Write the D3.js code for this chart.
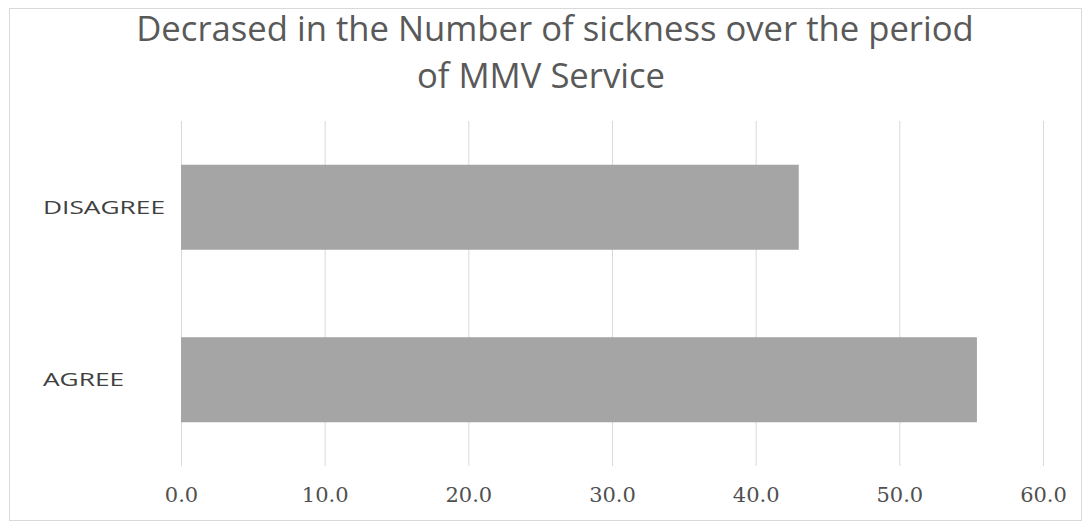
<!DOCTYPE html>
<html>
<head>
<meta charset="utf-8">
<script src="https://cdn.jsdelivr.net/npm/d3@7"></script>
<style>
  html, body { margin: 0; padding: 0; background: #fff; }
  svg { display: block; }
</style>
</head>
<body>
<svg id="chart" width="1091" height="529"></svg>
<script>
// Responses, bottom to top as in the chart
const categories = ["AGREE", "DISAGREE"];
const values = [55.4, 43.0];
const tickValues = [0, 10, 20, 30, 40, 50, 60];
const titleLines = ["Decrased in the Number of sickness over the period", "of MMV Service"];

const svg = d3.select("#chart");
const W = 1091, H = 529;
const font = "'Open Sans', 'Noto Sans', sans-serif";

// chart frame
svg.append("rect")
  .attr("x", 9.5).attr("y", 8.5)
  .attr("width", W - 19).attr("height", H - 17)
  .attr("fill", "#fff").attr("stroke", "#d9d9d9");

const plot = { left: 181, right: 1043, top: 121, bottom: 466 };

const x = d3.scaleLinear().domain([0, 60]).range([plot.left, plot.right]);
const y = d3.scaleBand()
  .domain(categories.slice().reverse())
  .range([plot.top, plot.bottom])
  .paddingInner(0.507)
  .paddingOuter(0.2535);

// vertical gridlines
svg.append("g")
  .selectAll("line")
  .data(tickValues)
  .join("line")
  .attr("x1", d => x(d) + 0.5).attr("x2", d => x(d) + 0.5)
  .attr("y1", plot.top).attr("y2", plot.bottom)
  .attr("stroke", "#d9d9d9").attr("stroke-width", 1);

// bars
svg.append("g")
  .selectAll("rect")
  .data(categories.map((c, i) => ({ c, v: values[i] })))
  .join("rect")
  .attr("x", x(0))
  .attr("y", d => y(d.c))
  .attr("width", d => x(d.v) - x(0))
  .attr("height", y.bandwidth())
  .attr("fill", "#a5a5a5");

// x axis tick labels
const xAxis = d3.axisBottom(x)
  .tickValues(tickValues)
  .tickFormat(d3.format(".1f"))
  .tickSize(0)
  .tickPadding(0);
const gx = svg.append("g")
  .attr("transform", `translate(0,502)`)
  .call(xAxis);
gx.select(".domain").remove();
gx.selectAll("text")
  .attr("y", 0)
  .attr("dy", 0)
  .attr("fill", "#505050")
  .style("font-family", "'DejaVu Serif', serif")
  .style("font-size", "21px");

// category labels, left aligned and widened to the axis-label style
const catLabels = svg.append("g")
  .selectAll("text")
  .data(categories)
  .join("text")
  .attr("x", 43)
  .attr("y", d => y(d) + y.bandwidth() / 2)
  .attr("dy", "0.36em")
  .attr("fill", "#404040")
  .style("font-family", font)
  .style("font-size", "18px")
  .text(d => d);
const widest = d3.max(catLabels.nodes(), n => n.getComputedTextLength());
const stretch = 122 / widest;
catLabels.each(function () {
  const w = this.getComputedTextLength();
  d3.select(this).attr("textLength", w * stretch).attr("lengthAdjust", "spacingAndGlyphs");
});

// title, two centred lines
const title = svg.append("g");
const t1 = title.append("text")
  .attr("x", 555).attr("y", 41)
  .attr("text-anchor", "middle")
  .attr("fill", "#595959")
  .style("font-family", font)
  .style("font-size", "28px")
  .text(titleLines[0]);
// fit the first line to its width
const w1 = t1.node().getComputedTextLength();
const size = 28 * 838 / w1;
t1.style("font-size", size + "px");
title.append("text")
  .attr("x", 541).attr("y", 88)
  .attr("text-anchor", "middle")
  .attr("fill", "#595959")
  .style("font-family", font)
  .style("font-size", size + "px")
  .text(titleLines[1]);
</script>
</body>
</html>
